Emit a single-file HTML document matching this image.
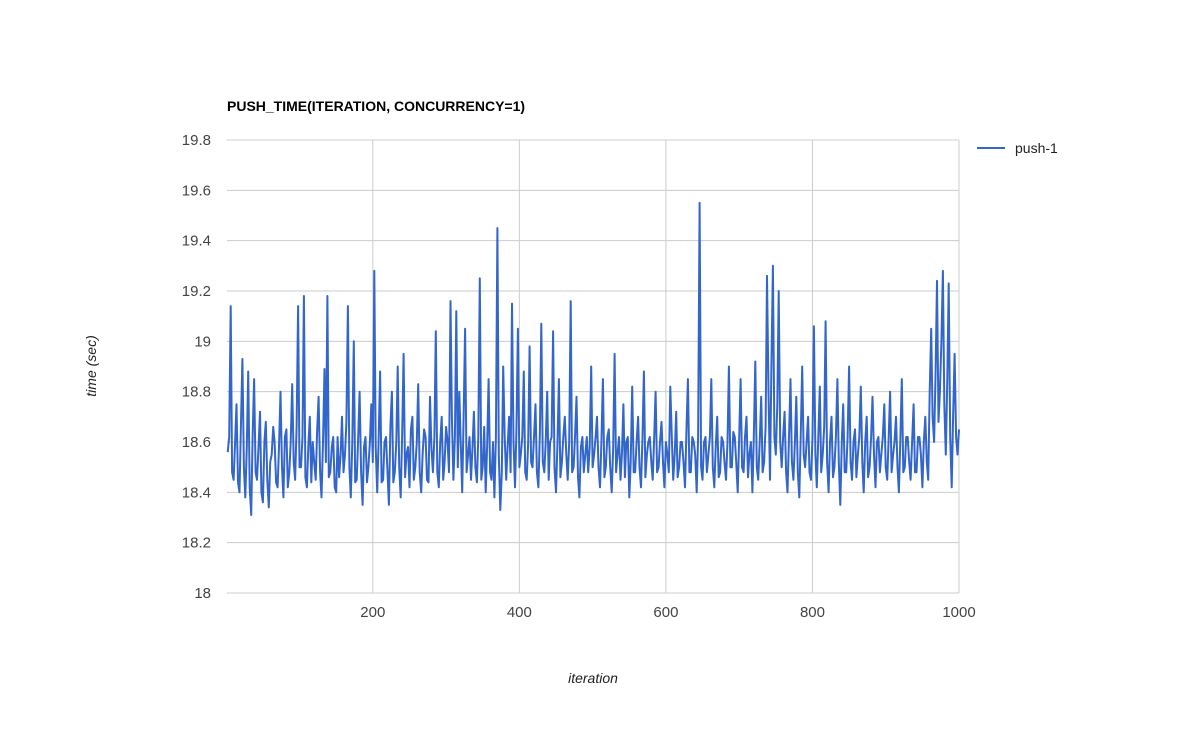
<!DOCTYPE html>
<html><head><meta charset="utf-8"><style>
body{margin:0;background:#fff;font-family:"Liberation Sans",Arial,sans-serif}
svg text{font-family:"Liberation Sans",Arial,sans-serif}
</style></head><body>
<svg id="chart" width="1186" height="734" xmlns="http://www.w3.org/2000/svg">
<text x="227" y="111" font-size="14" font-weight="bold" fill="#000">PUSH_TIME(ITERATION, CONCURRENCY=1)</text>
<g id="grid"></g>
<g id="yticks"></g>
<g id="xticks"></g>
<path id="line" fill="none" stroke="#3366cc" stroke-width="2" stroke-linejoin="round"/>
<text transform="translate(96,366) rotate(-90)" text-anchor="middle" font-size="14" font-style="italic" fill="#222">time (sec)</text>
<text x="593" y="683" text-anchor="middle" font-size="14" font-style="italic" fill="#222">iteration</text>
<g>
<line x1="977" y1="148" x2="1005" y2="148" stroke="#3366cc" stroke-width="2"/>
<text x="1015" y="153" font-size="14" fill="#222">push-1</text>
</g>
</svg>
<script>
const yTicks=[18,18.2,18.4,18.6,18.8,19,19.2,19.4,19.6,19.8];
const yTickLabels=["18","18.2","18.4","18.6","18.8","19","19.2","19.4","19.6","19.8"];
const xTicks=[200,400,600,800,1000];
const values=[
18.56,19.14,18.45,18.75,18.40,18.93,18.38,18.88,18.31,18.85,18.45,18.72,18.36,18.68,18.34,18.55,18.60,18.42,18.80,18.38,18.65,18.48,18.83,18.45,19.14,
18.50,19.18,18.42,18.70,18.60,18.45,18.78,18.38,18.89,19.18,18.48,18.62,18.40,18.46,18.70,18.55,19.14,18.38,19.00,18.45,18.80,18.35,18.62,18.50,18.75,
19.28,18.40,18.88,18.45,18.62,18.35,18.80,18.48,18.90,18.38,18.95,18.55,18.42,18.70,18.50,18.83,18.40,18.65,18.45,18.78,18.48,19.04,18.42,18.70,18.52,
18.60,19.16,18.45,19.12,18.80,18.40,19.05,18.55,18.45,18.72,18.44,19.25,18.50,18.40,18.85,18.45,18.38,19.45,18.33,18.90,18.45,18.70,19.15,18.42,19.05,
18.55,18.88,18.45,18.98,18.50,18.75,18.42,19.07,18.48,18.80,18.60,19.04,18.40,18.85,18.52,18.70,18.45,19.16,18.50,18.78,18.38,18.62,18.55,18.48,18.90,
18.55,18.70,18.42,18.85,18.50,18.65,18.40,18.95,18.55,18.45,18.75,18.60,18.38,18.82,18.48,18.70,18.42,18.88,18.55,18.62,18.45,18.80,18.50,18.68,18.42,
18.55,18.82,18.45,18.72,18.50,18.60,18.42,18.85,18.48,18.60,18.40,19.55,18.45,18.62,18.55,18.85,18.42,18.70,18.48,18.60,18.45,18.90,18.50,18.62,18.40,
18.85,18.48,18.70,18.55,18.40,18.92,18.45,18.78,18.52,19.26,18.45,19.30,18.55,19.20,18.50,18.72,18.40,18.85,18.45,18.78,18.38,18.90,18.50,18.70,18.45,
19.06,18.42,18.82,18.55,19.08,18.40,18.70,18.50,18.85,18.35,18.75,18.48,18.90,18.45,18.65,18.55,18.82,18.40,18.70,18.50,18.78,18.42,18.62,18.55,18.75,
18.45,18.80,18.55,18.70,18.40,18.85,18.50,18.62,18.45,18.75,18.48,18.62,18.42,18.70,18.45,19.05,18.60,19.24,18.80,19.28,18.55,19.23,18.42,18.95,18.55];
const midValues=[
18.62,18.48,18.60,18.44,18.66,18.50,18.58,18.42,18.62,18.48,18.58,18.40,18.60,18.45,18.52,18.66,18.44,18.58,18.50,18.62,18.42,18.60,18.52,18.66,18.50,
18.62,18.46,18.58,18.44,18.52,18.64,18.48,18.60,18.52,18.46,18.58,18.42,18.62,18.55,18.48,18.68,18.50,18.60,18.44,18.62,18.48,18.58,18.44,18.60,18.52,
18.58,18.62,18.44,18.60,18.48,18.66,18.44,18.60,18.50,18.62,18.46,18.58,18.65,18.45,18.60,18.48,18.55,18.62,18.44,18.58,18.62,18.48,18.60,18.45,18.66,
18.48,18.70,18.62,18.50,18.60,18.72,18.48,18.62,18.58,18.50,18.62,18.45,18.66,18.58,18.48,18.60,18.62,18.55,18.48,18.62,18.58,18.48,18.60,18.64,18.50,
18.62,18.48,18.60,18.52,18.62,18.48,18.64,18.52,18.60,18.45,18.62,18.50,18.60,18.46,18.62,18.55,18.60,18.48,18.62,18.46,18.58,18.48,18.62,18.58,18.50,
18.62,18.50,18.60,18.46,18.62,18.50,18.58,18.48,18.62,18.55,18.46,18.62,18.52,18.48,18.60,18.50,18.62,18.46,18.60,18.52,18.62,18.48,18.60,18.52,18.60,
18.48,18.62,18.55,18.46,18.60,18.52,18.64,18.48,18.62,18.55,18.62,18.50,18.60,18.48,18.62,18.50,18.58,18.46,18.62,18.52,18.60,18.50,18.64,18.52,18.62,
18.50,18.62,18.46,18.60,18.62,18.50,18.60,18.48,18.66,18.80,18.90,18.62,18.75,18.60,18.62,18.48,18.62,18.52,18.60,18.48,18.62,18.55,18.60,18.48,18.62,
18.55,18.62,18.48,18.66,18.52,18.60,18.46,18.62,18.52,18.60,18.48,18.62,18.52,18.60,18.46,18.62,18.52,18.60,18.46,18.62,18.55,18.60,18.48,18.62,18.50,
18.62,18.48,18.60,18.50,18.62,18.48,18.62,18.52,18.60,18.48,18.62,18.55,18.60,18.52,18.80,18.70,18.88,18.68,19.00,18.75,18.85,18.62,18.70,18.62,18.65];
const allValues=[],iterations=[];
values.forEach((v,i)=>{allValues.push(v);iterations.push(4*i+2);allValues.push(midValues[i]);iterations.push(4*i+4);});

const L=227,R=959,T=140,B=593,xMin=1,xMax=1000,yMin=18,yMax=19.8;
const xs=v=>L+(v-xMin)/(xMax-xMin)*(R-L);
const ys=v=>B-(v-yMin)/(yMax-yMin)*(B-T);
const NS="http://www.w3.org/2000/svg";
const grid=document.getElementById('grid'),yt=document.getElementById('yticks'),xt=document.getElementById('xticks');
yTicks.forEach((t,i)=>{
 const l=document.createElementNS(NS,'line');
 
 
 l.setAttribute('x1',L);l.setAttribute('x2',R);l.setAttribute('y1',ys(t));l.setAttribute('y2',ys(t));
 l.setAttribute('stroke','#ccc');l.setAttribute('stroke-width','1');
 grid.appendChild(l);
 const tx=document.createElementNS(NS,'text');
 
 
 tx.setAttribute('x',211);tx.setAttribute('y',ys(t)+5);tx.setAttribute('text-anchor','end');
 tx.setAttribute('font-size','15');tx.setAttribute('fill','#444');tx.textContent=yTickLabels[i];
 yt.appendChild(tx);
});
xTicks.forEach(t=>{
 const l=document.createElementNS(NS,'line');
 
 
 l.setAttribute('x1',xs(t));l.setAttribute('x2',xs(t));l.setAttribute('y1',T);l.setAttribute('y2',B);
 l.setAttribute('stroke','#ccc');
 grid.appendChild(l);
 const tx=document.createElementNS(NS,'text');
 
 
 tx.setAttribute('x',xs(t));tx.setAttribute('y',617);tx.setAttribute('text-anchor','middle');
 tx.setAttribute('font-size','15');tx.setAttribute('fill','#444');tx.textContent=t;
 xt.appendChild(tx);
});
document.getElementById('line').setAttribute('d',allValues.map((v,i)=>(i?'L':'M')+xs(iterations[i]).toFixed(1)+','+ys(v).toFixed(1)).join(''));
</script>
</body></html>
